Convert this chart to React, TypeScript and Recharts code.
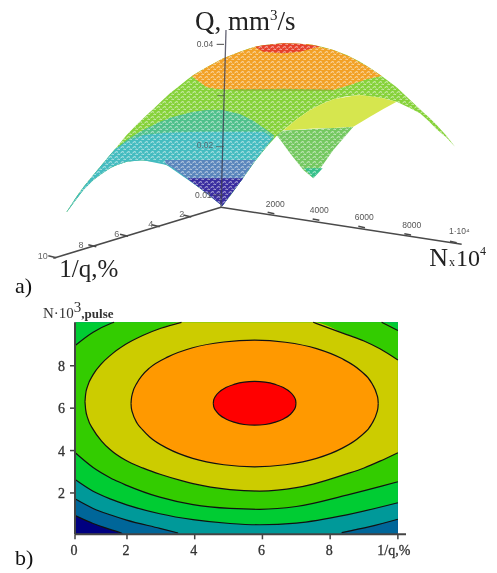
import React from "react";
import {
  ComposedChart, Area, Line, XAxis, YAxis, ReferenceLine, ReferenceDot,
} from "recharts";

type Row = [number, number | null, number | null];
const toRows = (t: Row[]) => t.map(([x, lo, hi]) => ({ x, lo, hi }));

// ---- Panel b: contour boundaries (1/q, lower N, upper N) ----
const plotFill: Row[] = [[0.49, null, null], [10, null, null]];
const contourBlue: Row[] = [[0.49, 0.92, null], [1, 0.56, null], [1.5, 0.28, null], [1.85, 0.1, null], [1.95, null, null], [10, null, null]];
const contourTeal: Row[] = [[0.49, 1.7, null], [1, 1.27, null], [1.5, 0.97, null], [1.99, 0.72, null], [2.97, 0.33, null], [3.51, 0.11, null], [3.6, null, null], [8.25, null, null], [8.34, 0.13, null], [9.17, 0.41, null], [10, 0.76, null]];
const contourGreen2: Row[] = [[0.49, 2.61, null], [1, 2.08, null], [1.5, 1.72, null], [1.99, 1.44, null], [2.97, 1.02, null], [3.95, 0.74, null], [5.04, 0.56, null], [5.92, 0.5, null], [7, 0.58, null], [8.49, 0.97, null], [10, 1.54, null]];
const contourGreen1: Row[] = [[0.49, 3.87, 8.98], [1, 3.2, 9.58], [1.5, 2.72, 9.98], [1.62, 2.62, 10.05], [1.99, 2.36, null], [2.97, 1.8, null], [3.95, 1.45, null], [5.04, 1.27, null], [5.92, 1.23, null], [7, 1.36, null], [8.49, 1.9, null], [9.52, 2.32, 10.05], [10, 2.53, 9.66]];
const contourYellow: Row[] = [[0.76, 6.3, 6.3], [0.78, 5.93, 6.67], [0.84, 5.53, 7.05], [1, 5, 7.58], [1.25, 4.45, 8.1], [1.5, 4.05, 8.48], [1.95, 3.55, 9], [2.48, 3.17, 9.44], [3, 2.87, 9.77], [3.61, 2.58, 10.05], [3.95, 2.44, null], [5.04, 2.16, null], [5.92, 2.09, null], [7, 2.25, null], [7.5, 2.42, 10.05], [8.49, 2.9, 9.47], [9, 3.18, 9.17], [9.47, 3.5, 8.8], [10, 3.9, 8.27]];
const contourOrange: Row[] = [[2.12, 6.22, 6.22], [2.13, 6, 6.44], [2.16, 5.8, 6.68], [2.3, 5.29, 7.2], [2.45, 5, 7.55], [2.67, 4.64, 7.9], [3.21, 4.09, 8.42], [3.94, 3.63, 8.85], [4.86, 3.33, 9.12], [5.77, 3.23, 9.21], [6.68, 3.33, 9.11], [7.6, 3.63, 8.81], [8.33, 4.09, 8.35], [8.87, 4.64, 7.8], [9.24, 5.29, 7.15], [9.38, 5.8, 6.64], [9.41, 6, 6.44], [9.42, 6.22, 6.22]];
const contourRed: Row[] = [[4.55, 6.23, 6.23], [4.56, 6.08, 6.38], [4.61, 5.91, 6.55], [4.73, 5.69, 6.77], [4.92, 5.49, 6.97], [5.16, 5.34, 7.12], [5.46, 5.23, 7.23], [5.77, 5.2, 7.26], [6.08, 5.23, 7.23], [6.38, 5.34, 7.12], [6.62, 5.49, 6.97], [6.81, 5.69, 6.77], [6.93, 5.91, 6.55], [6.98, 6.08, 6.38], [6.99, 6.23, 6.23]];
const contourSeries = [plotFill, contourBlue, contourTeal, contourGreen2, contourGreen1, contourYellow, contourOrange, contourRed];
const contourColors = ["#000080", "#006699", "#009999", "#00cc33", "#33cc00", "#cccc00", "#ff9900", "#ff0000"];
const xTicks = [0.465, 2, 4, 6, 8, 10];
const xTickText = ["0", "2", "4", "6", "8", "1/q,%"];
const yTicks = [2, 4, 6, 8];

// ---- Panel a: projected surface bands (screen x, upper edge, lower edge) ----
const surfaceMain: Row[] = [[200, 635, 637], [212, 617, 620], [225, 597, 603], [237, 579, 586], [250, 562, 570], [265, 543, 554], [280, 525, 540], [300, 501, 525], [315, 483, 514], [330, 465, 505], [350, 442, 495], [365, 423, 490], [380, 405, 485], [410, 374, 481], [440, 345, 480], [460, 327, 480], [485, 303, 487], [510, 280, 497], [535, 260, 515], [560, 240, 535], [580, 225, 550], [600, 213, 565], [620, 202, 580], [645, 188, 598], [667, 176, 618], [695, 165, 582], [720, 155, 547], [745, 146, 512], [770, 139, 476], [800, 134, 440], [830, 131, 408], [850, 130, 390], [890, 131, 358], [930, 133, 330], [965, 140, 312], [1000, 150, 298], [1040, 165, 289], [1080, 185, 285], [1115, 207, 290], [1150, 232, 295], [1190, 262, 305], [1225, 295, 322], [1260, 328, 340], [1285, 350, 362], [1310, 375, 388], [1340, 408, 413], [1365, 440, 440]];
const surfaceBackGreen: Row[] = [[830, 405, 405], [850, 392, 432], [870, 391, 460], [910, 389, 510], [940, 387, 535], [1000, 384, 450], [1060, 380, 380]];
const surfaceBackTip: Row[] = [[912, 505, 505], [940, 505, 535], [968, 505, 505]];
const surfaceYellow: Row[] = [[850, 391, 391], [890, 358, 389], [930, 330, 386], [965, 312, 385], [1000, 298, 384], [1060, 287, 380], [1080, 285, 368], [1110, 289, 350], [1150, 295, 327], [1190, 305, 305]];
const surfaceOrange: Row[] = [[575, 229, 229], [620, 202, 262], [645, 188, 266], [670, 175, 268], [720, 155, 268], [770, 139, 268], [850, 130, 266], [930, 133, 268], [1000, 150, 270], [1050, 170, 255], [1100, 198, 238], [1145, 228, 228]];
const surfaceRed: Row[] = [[765, 141, 141], [790, 136, 155], [850, 130, 160], [900, 131, 155], [960, 139, 139]];
const surfaceTealGreen: Row[] = [[200, 635, 637], [225, 597, 603], [250, 562, 570], [280, 525, 540], [300, 501, 525], [330, 465, 505], [345, 448, 497], [380, 420, 485], [420, 395, 481], [480, 365, 487], [520, 350, 505], [580, 335, 550], [620, 330, 580], [667, 330, 618], [720, 342, 547], [760, 362, 490], [800, 390, 440], [822, 406, 414]];
const surfaceTeal: Row[] = [[200, 635, 637], [225, 597, 603], [250, 562, 570], [280, 525, 540], [300, 501, 525], [330, 465, 505], [345, 448, 497], [380, 425, 485], [430, 405, 481], [500, 398, 495], [600, 395, 565], [667, 395, 618], [720, 395, 547], [770, 395, 476], [790, 395, 450], [815, 412, 418]];
const surfaceBlue: Row[] = [[495, 480, 490], [520, 480, 505], [580, 480, 550], [620, 480, 580], [667, 480, 618], [720, 480, 547], [765, 480, 482]];
const surfaceViolet: Row[] = [[565, 535, 538], [620, 535, 580], [667, 535, 618], [720, 535, 547], [730, 535, 535]];
const surfaceSeries = [surfaceMain, surfaceBackGreen, surfaceBackTip, surfaceYellow, surfaceOrange, surfaceRed, surfaceTealGreen, surfaceTeal, surfaceBlue, surfaceViolet];
const surfaceColors = ["#86d23a", "#74c860", "#35c08a", "#d6e64e", "#f2a126", "#e6402a", "#4fc08c", "#45bcc0", "#5a86bc", "#3a2ea0"];

const nTickText = ["2000", "4000", "6000", "8000", "1·10⁴"];
const qTickText = ["0.04", "0.03", "0.02", "0.01"];
const invTickText = ["2", "4", "6", "8", "10"];

// layout of the drawn axes of panel a, in the same screen units
const nMarks = [[815, 642], [950, 662], [1087, 684], [1225, 706], [1362, 729]];
const nLabels = [[826, 620], [958, 640], [1093, 660], [1235, 683], [1378, 703]];
const qMarks = [[650, 133], [652, 287], [648, 440], [640, 585]];
const qLabels = [[615, 141], [0, 0], [615, 445], [610, 593]];
const invMarks = [[570, 651], [475, 680], [380, 709], [285, 740], [165, 773]];
const invLabels = [[545, 650], [452, 680], [350, 711], [243, 743], [128, 778]];

const axisGray = "#4a4a4a";
const serif = "'Liberation Serif', serif";
const sans = "'Liberation Sans', sans-serif";

const textShape = (content: React.ReactNode, size: number, fill = "#222", anchor = "start", family = serif) =>
  (p: any) => (
    <text x={p.cx} y={p.cy} fontSize={size} fill={fill} textAnchor={anchor as any} fontFamily={family}>{content}</text>
  );

const TopPanel = () => (
  <ComposedChart width={497} height={300} margin={{ top: 0, right: 0, bottom: 0, left: 0 }}>
    <defs>
      <pattern id="surfaceMesh" patternUnits="userSpaceOnUse" width="6" height="5">
        <path d="M0.5 3 Q2 0.8 4 2.2 M3.5 4.6 Q5 3.6 5.8 4.6" stroke="#ffffff" strokeWidth="1" fill="none" opacity="0.7" />
      </pattern>
    </defs>
    <XAxis type="number" dataKey="x" domain={[0, 1491]} hide />
    <YAxis type="number" domain={[0, 900]} reversed hide />
    {surfaceSeries.map((s, i) => (
      <Area key={i} data={toRows(s)} dataKey={(d: any) => [d.lo, d.hi]} fill={surfaceColors[i]} fillOpacity={1} stroke="none" dot={false} activeDot={false} isAnimationActive={false} />
    ))}
    <Area data={toRows(surfaceMain)} dataKey={(d: any) => [d.lo, d.hi]} fill="url(#surfaceMesh)" fillOpacity={1} stroke="none" dot={false} activeDot={false} isAnimationActive={false} />
    <Area data={toRows(surfaceBackGreen)} dataKey={(d: any) => [d.lo, d.hi]} fill="url(#surfaceMesh)" fillOpacity={1} stroke="none" dot={false} activeDot={false} isAnimationActive={false} />
    <ReferenceLine segment={[{ x: 700, y: 269 }, { x: 1000, y: 270 }]} stroke="#8a9a30" strokeWidth={1.5} strokeOpacity={0.5} />

    <ReferenceLine segment={[{ x: 678, y: 90 }, { x: 663, y: 622 }]} stroke="#3c3c50" strokeWidth={1.3} strokeOpacity={0.8} />
    <ReferenceLine segment={[{ x: 663, y: 622 }, { x: 1385, y: 733 }]} stroke={axisGray} strokeWidth={1.5} />
    <ReferenceLine segment={[{ x: 663, y: 622 }, { x: 160, y: 775 }]} stroke={axisGray} strokeWidth={1.5} />
    {nMarks.map(([x, y], i) => (
      <ReferenceLine key={"nm" + i} segment={[{ x: x - 12, y: y - 5 }, { x: x + 8, y: y - 1 }]} stroke={axisGray} strokeWidth={1.5} />
    ))}
    {invMarks.map(([x, y], i) => (
      <ReferenceLine key={"im" + i} segment={[{ x: x - 20, y: y - 6 }, { x: x + 4, y: y }]} stroke={axisGray} strokeWidth={1.5} />
    ))}
    {qMarks.map(([x, y], i) => (
      <ReferenceLine key={"qm" + i} segment={[{ x, y }, { x: 672, y }]} stroke={axisGray} strokeWidth={1} strokeOpacity={i === 0 ? 1 : 0.6} />
    ))}
    {nTickText.map((t, i) => (
      <ReferenceDot key={"nt" + i} x={nLabels[i][0]} y={nLabels[i][1]} r={0} shape={textShape(t, 8.5, "#555", "middle", sans)} />
    ))}
    {invTickText.map((t, i) => (
      <ReferenceDot key={"it" + i} x={invLabels[i][0]} y={invLabels[i][1]} r={0} shape={textShape(t, 9, "#666", "middle", sans)} />
    ))}
    {qTickText.map((t, i) => i === 1 ? null : (
      <ReferenceDot key={"qt" + i} x={qLabels[i][0]} y={qLabels[i][1]} r={0} shape={textShape(t, 8.5, i === 2 ? "#55707a" : "#555", "middle", sans)} />
    ))}

    <ReferenceDot x={585} y={90} r={0} shape={textShape(<>Q, mm<tspan dy={-10} fontSize={15}>3</tspan><tspan dy={10}>/s</tspan></>, 27)} />
    <ReferenceDot x={178} y={830} r={0} shape={textShape("1/q,%", 25)} />
    <ReferenceDot x={1288} y={797} r={0} shape={textShape(<>N<tspan fontSize={12} dx={1}>x</tspan><tspan fontSize={24} dx={1}>10</tspan><tspan dy={-11} fontSize={12}>4</tspan></>, 26)} />
    <ReferenceDot x={45} y={878} r={0} shape={textShape("a)", 22, "#111")} />
  </ComposedChart>
);

const XTick = (p: any) => {
  const label = xTickText[xTicks.indexOf(p.payload.value)];
  const last = label.length > 1;
  return (
    <text x={p.x - (last ? 4 : 1)} y={p.y + 14} textAnchor="middle" fontSize={14} fontFamily={serif} fill="#333" stroke="#333" strokeWidth={0.3}>{label}</text>
  );
};

const BottomPanel = () => (
  <ComposedChart width={497} height={283} margin={{ top: 32.3, right: 91, bottom: 0, left: 0 }}>
    <XAxis
      type="number" dataKey="x" domain={[0.465, 10.24]} ticks={xTicks} interval={0} height={38.7}
      tick={<XTick />} tickSize={5}
      axisLine={{ stroke: "#444", strokeWidth: 2 }} tickLine={{ stroke: "#444", strokeWidth: 1.5 }}
    />
    <YAxis
      type="number" domain={[0.05, 10.05]} ticks={yTicks} interval={0} width={75}
      tick={{ fontSize: 14, fontFamily: serif, fill: "#333", stroke: "#333", strokeWidth: 0.3 }} tickSize={5} tickMargin={5}
      axisLine={{ stroke: "#444", strokeWidth: 2 }} tickLine={{ stroke: "#444", strokeWidth: 1.5 }}
    />
    {contourSeries.map((s, i) => (
      <Area key={"a" + i} data={toRows(s)} type="monotoneX" dataKey={(d: any) => [d.lo ?? 0.05, d.hi ?? 10.05]} fill={contourColors[i]} fillOpacity={1} stroke="none" dot={false} activeDot={false} isAnimationActive={false} />
    ))}
    {contourSeries.map((s, i) => (
      <Line key={"lo" + i} data={toRows(s)} type="monotoneX" dataKey="lo" stroke="#111" strokeWidth={1.2} dot={false} activeDot={false} connectNulls={false} isAnimationActive={false} />
    ))}
    {contourSeries.map((s, i) => (
      <Line key={"hi" + i} data={toRows(s)} type="monotoneX" dataKey="hi" stroke="#111" strokeWidth={1.2} dot={false} activeDot={false} connectNulls={false} isAnimationActive={false} />
    ))}
    <ReferenceDot x={-0.48} y={10.27} r={0} ifOverflow="visible" shape={textShape(<>N·10<tspan dy={-6} fontSize={15}>3</tspan><tspan dy={6} fontWeight={700} fontSize={13}>,pulse</tspan></>, 15, "#333")} />
    <ReferenceDot x={-1.31} y={-1.42} r={0} ifOverflow="visible" shape={textShape("b)", 22, "#111")} />
  </ComposedChart>
);

export default function App() {
  return (
    <div style={{ position: "absolute", left: 0, top: 0, width: 497, height: 573, background: "#fff", overflow: "hidden", filter: "blur(0.4px)" }}>
      <div style={{ position: "absolute", left: 0, top: 0 }}><TopPanel /></div>
      <div style={{ position: "absolute", left: 0, top: 290 }}><BottomPanel /></div>
    </div>
  );
}
